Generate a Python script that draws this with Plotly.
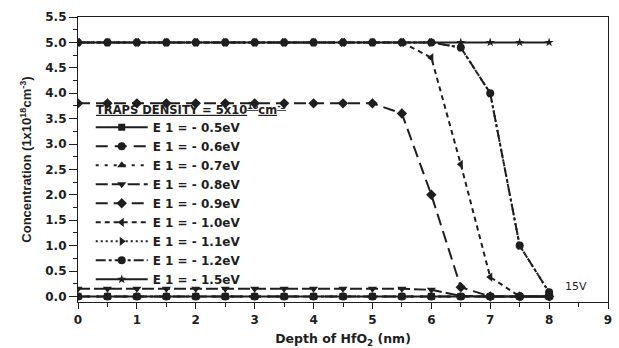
import plotly.graph_objects as go

depth = [0, 0.5, 1, 1.5, 2, 2.5, 3, 3.5, 4, 4.5, 5, 5.5, 6, 6.5, 7, 7.5, 8]

labels = ["E 1 = - 0.5eV", "E 1 = - 0.6eV", "E 1 = - 0.7eV", "E 1 = - 0.8eV",
          "E 1 = - 0.9eV", "E 1 = - 1.0eV", "E 1 = - 1.1eV", "E 1 = - 1.2eV",
          "E 1 = - 1.5eV"]
legend_title = "TRAPS DENSITY = 5x10<sup>18</sup>cm<sup>-3</sup>"

c_05 = [0, 0, 0, 0, 0, 0, 0, 0, 0, 0, 0, 0, 0, 0, 0, 0, 0]
c_06 = [0, 0, 0, 0, 0, 0, 0, 0, 0, 0, 0, 0, 0, 0, 0, 0, 0]
c_07 = [0, 0, 0, 0, 0, 0, 0, 0, 0, 0, 0, 0, 0, 0, 0, 0, 0]
c_08 = [0.15, 0.15, 0.15, 0.15, 0.15, 0.15, 0.15, 0.15, 0.15, 0.15, 0.15, 0.15, 0.13, 0.01, 0, 0, 0]
c_09 = [3.8, 3.8, 3.8, 3.8, 3.8, 3.8, 3.8, 3.8, 3.8, 3.8, 3.8, 3.6, 2.0, 0.18, 0, 0, 0]
c_10 = [5.0, 5.0, 5.0, 5.0, 5.0, 5.0, 5.0, 5.0, 5.0, 5.0, 5.0, 5.0, 4.7, 2.6, 0.38, 0, 0]
c_11 = [5.0, 5.0, 5.0, 5.0, 5.0, 5.0, 5.0, 5.0, 5.0, 5.0, 5.0, 5.0, 5.0, 4.9, 4.0, 1.0, 0.08]
c_12 = [5.0, 5.0, 5.0, 5.0, 5.0, 5.0, 5.0, 5.0, 5.0, 5.0, 5.0, 5.0, 5.0, 4.9, 4.0, 1.0, 0.08]
c_15 = [5.0, 5.0, 5.0, 5.0, 5.0, 5.0, 5.0, 5.0, 5.0, 5.0, 5.0, 5.0, 5.0, 5.0, 5.0, 5.0, 5.0]

x_ticks = [0, 1, 2, 3, 4, 5, 6, 7, 8, 9]
y_ticks = [0, 0.5, 1, 1.5, 2, 2.5, 3, 3.5, 4, 4.5, 5, 5.5]

series = [c_05, c_06, c_07, c_08, c_09, c_10, c_11, c_12, c_15]
symbols = ["square", "circle", "triangle-up", "triangle-down", "diamond",
           "triangle-left", "triangle-right", "circle", "star"]
dashes = ["solid", "12px,7px", "3px,6px", "12px,4px", "12px,6px",
          "5px,4px", "2px,3px", "10px,3px,3px,3px", "solid"]
msizes = [7, 8, 8, 8, 8, 8, 8, 8, 7]

INK = "#1e1e1e"
WIDE = "DejaVu Sans, Verdana, sans-serif"
NARROW = "Liberation Sans, Arial, sans-serif"

fig = go.Figure()
for lab, ys, sym, dsh, ms in zip(labels, series, symbols, dashes, msizes):
    fig.add_trace(go.Scatter(
        x=depth, y=ys, name=lab, mode="lines+markers",
        line=dict(color=INK, width=2, dash=dsh),
        marker=dict(symbol=sym, size=ms, color=INK),
    ))

fig.add_annotation(x=8.46, y=0.2, text="15V", showarrow=False,
                   font=dict(family=WIDE, size=11, color=INK))

# legend heading
fig.add_annotation(xref="paper", yref="paper", x=0.03, y=0.676,
                   xanchor="left", yanchor="middle", showarrow=False,
                   text=legend_title,
                   font=dict(family=WIDE, size=11.5, color=INK, weight="bold",
                             lineposition="under"))

fig.update_layout(
    width=619, height=348,
    margin=dict(l=78, r=11, t=17, b=46),
    paper_bgcolor="white", plot_bgcolor="white",
    font=dict(family=WIDE, color=INK),
    legend=dict(
        x=0.024, y=0.664, xanchor="left", yanchor="top",
        bgcolor="rgba(0,0,0,0)",
        font=dict(family=WIDE, size=12, color=INK, weight="bold"),
        itemwidth=52, tracegroupgap=0,
    ),
    xaxis=dict(
        range=[0, 9], tickvals=x_ticks, automargin=False,
        ticks="outside", ticklen=6, tickwidth=1.2, tickcolor=INK,
        minor=dict(dtick=0.5, ticks="outside", ticklen=4, tickcolor=INK),
        showline=True, linecolor=INK, linewidth=1.2, mirror=True,
        showgrid=False, zeroline=False,
        tickfont=dict(family=WIDE, size=12, color=INK, weight="bold"),
        title=dict(text="Depth of HfO<sub>2</sub> (nm)", standoff=10,
                   font=dict(family=WIDE, size=12.5, color=INK, weight="bold")),
    ),
    yaxis=dict(
        range=[-0.11, 5.5], tickvals=y_ticks, automargin=False,
        tickformat=".1f",
        ticks="outside", ticklen=8, tickwidth=1.2, tickcolor=INK,
        minor=dict(dtick=0.25, ticks="outside", ticklen=4, tickcolor=INK),
        showline=True, linecolor=INK, linewidth=1.2, mirror=True,
        showgrid=False, zeroline=False,
        tickfont=dict(family=WIDE, size=12, color=INK, weight="bold"),
        title=dict(text="Concentration (1x10<sup>18</sup>cm<sup>-3</sup>)", standoff=10,
                   font=dict(family=NARROW, size=13, color=INK, weight="bold")),
    ),
)

fig.write_html("out.html",
               config={"displayModeBar": False},
               post_script="document.body.style.margin='0px';"
                           "document.body.style.overflow='hidden';")
